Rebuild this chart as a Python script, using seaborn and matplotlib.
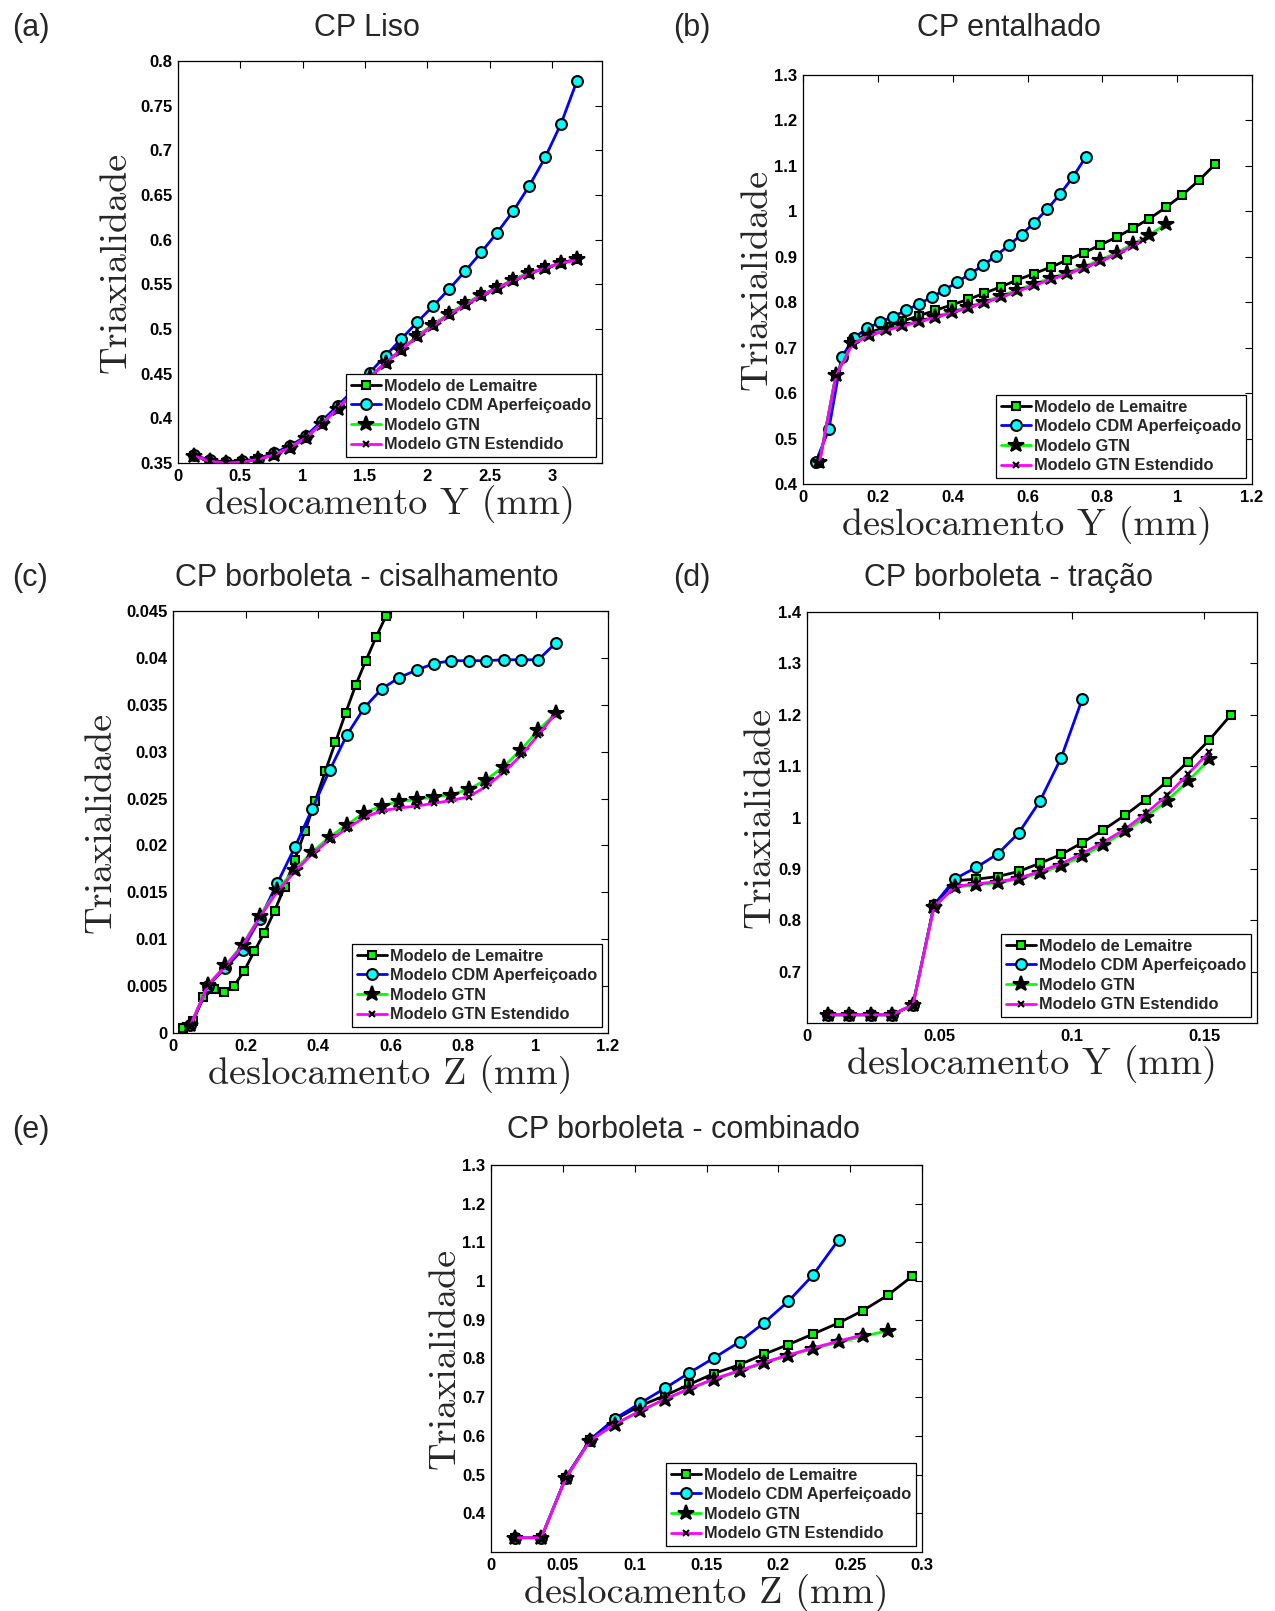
import matplotlib
matplotlib.use("Agg")
import matplotlib.pyplot as plt
import numpy as np
import seaborn as sns
from matplotlib.ticker import FuncFormatter

# ---- data ----
# (a) CP Liso
a_x = [0.128, 0.256, 0.384, 0.512, 0.640, 0.768, 0.896, 1.024, 1.152, 1.280, 1.408, 1.536, 1.664,
       1.792, 1.920, 2.048, 2.176, 2.304, 2.432, 2.560, 2.688, 2.816, 2.944, 3.072, 3.200]
a_lem = [0.358, 0.352, 0.350, 0.351, 0.354, 0.359, 0.367, 0.378, 0.394, 0.411, 0.429, 0.446, 0.462,
         0.477, 0.492, 0.505, 0.517, 0.528, 0.538, 0.546, 0.555, 0.563, 0.568, 0.574, 0.578]
a_cdm = [0.359, 0.353, 0.351, 0.352, 0.355, 0.361, 0.369, 0.380, 0.397, 0.414, 0.432, 0.451, 0.470,
         0.489, 0.508, 0.526, 0.545, 0.565, 0.586, 0.608, 0.632, 0.660, 0.692, 0.730, 0.778]
a_gtn = [0.358, 0.352, 0.350, 0.351, 0.354, 0.359, 0.367, 0.378, 0.394, 0.411, 0.429, 0.446, 0.462,
         0.477, 0.492, 0.505, 0.517, 0.528, 0.538, 0.546, 0.555, 0.563, 0.568, 0.574, 0.578]
a_ext = [0.358, 0.352, 0.350, 0.351, 0.354, 0.359, 0.367, 0.378, 0.394, 0.411, 0.429, 0.446, 0.462,
         0.477, 0.491, 0.504, 0.516, 0.527, 0.537, 0.546, 0.554, 0.562, 0.568, 0.574, 0.577]

# (b) CP entalhado
b_x_lem = [0.044, 0.088, 0.132, 0.176, 0.221, 0.265, 0.309, 0.353, 0.397, 0.441, 0.485, 0.529, 0.573,
           0.617, 0.662, 0.706, 0.750, 0.794, 0.838, 0.882, 0.926, 0.970, 1.014, 1.058, 1.102]
b_lem = [0.447, 0.640, 0.712, 0.733, 0.745, 0.758, 0.770, 0.782, 0.794, 0.806, 0.820, 0.834, 0.849,
         0.863, 0.877, 0.893, 0.908, 0.926, 0.943, 0.963, 0.984, 1.009, 1.036, 1.068, 1.104]
b_x_cdm = [0.034, 0.069, 0.103, 0.137, 0.172, 0.206, 0.240, 0.275, 0.309, 0.344, 0.378, 0.412, 0.447,
           0.481, 0.515, 0.550, 0.584, 0.618, 0.653, 0.687, 0.721, 0.756]
b_cdm = [0.448, 0.520, 0.679, 0.722, 0.743, 0.756, 0.768, 0.782, 0.796, 0.811, 0.827, 0.844, 0.863,
         0.881, 0.902, 0.925, 0.949, 0.975, 1.005, 1.038, 1.075, 1.120]
b_x_gtn = [0.044, 0.088, 0.132, 0.176, 0.221, 0.265, 0.309, 0.353, 0.397, 0.441, 0.485, 0.529, 0.573,
           0.617, 0.662, 0.706, 0.750, 0.794, 0.838, 0.882, 0.926, 0.970]
b_gtn = [0.448, 0.640, 0.710, 0.728, 0.740, 0.749, 0.759, 0.768, 0.779, 0.790, 0.801, 0.814, 0.827,
         0.840, 0.853, 0.865, 0.878, 0.893, 0.909, 0.928, 0.948, 0.972]
b_x_ext = [0.044, 0.088, 0.132, 0.176, 0.221, 0.265, 0.309, 0.353, 0.397, 0.441, 0.485, 0.529, 0.573,
           0.617, 0.662, 0.706, 0.750, 0.794, 0.838, 0.882, 0.910]
b_ext = [0.447, 0.638, 0.708, 0.726, 0.738, 0.747, 0.757, 0.766, 0.777, 0.788, 0.799, 0.811, 0.824,
         0.837, 0.850, 0.862, 0.875, 0.890, 0.906, 0.924, 0.938]

# (c) CP borboleta - cisalhamento
c_x_lem = [0.028, 0.056, 0.084, 0.112, 0.140, 0.168, 0.196, 0.224, 0.252, 0.280, 0.308, 0.336, 0.364,
           0.392, 0.420, 0.448, 0.476, 0.504, 0.532, 0.560, 0.588]
c_lem = [0.0005, 0.0013, 0.0038, 0.0047, 0.0044, 0.0050, 0.0066, 0.0087, 0.0107, 0.0130, 0.0156,
         0.0185, 0.0215, 0.0247, 0.0279, 0.0310, 0.0341, 0.0371, 0.0397, 0.0422, 0.0445]
c_x = [0.048, 0.096, 0.144, 0.192, 0.240, 0.288, 0.336, 0.384, 0.432, 0.480, 0.528, 0.576, 0.624,
       0.672, 0.720, 0.768, 0.816, 0.864, 0.912, 0.960, 1.008, 1.056]
c_cdm = [0.0008, 0.0050, 0.0069, 0.0089, 0.0122, 0.0160, 0.0198, 0.0239, 0.0280, 0.0318, 0.0347,
         0.0367, 0.0379, 0.0387, 0.0394, 0.0397, 0.0397, 0.0397, 0.0398, 0.0398, 0.0398, 0.0416]
c_gtn = [0.0008, 0.0051, 0.0072, 0.0094, 0.0125, 0.0153, 0.0174, 0.0193, 0.0209, 0.0222, 0.0235,
         0.0242, 0.0247, 0.0249, 0.0252, 0.0254, 0.0260, 0.0270, 0.0284, 0.0302, 0.0323, 0.0341]
c_ext = [0.0008, 0.0051, 0.0071, 0.0093, 0.0124, 0.0151, 0.0172, 0.0191, 0.0206, 0.0218, 0.0230,
         0.0237, 0.0240, 0.0242, 0.0245, 0.0248, 0.0252, 0.0263, 0.0278, 0.0296, 0.0318, 0.0341]

# (d) CP borboleta - tracao
d_x = [0.008, 0.016, 0.024, 0.032, 0.040, 0.048, 0.056, 0.064, 0.072, 0.080, 0.088, 0.096, 0.104,
       0.112, 0.120, 0.128, 0.136, 0.144, 0.152, 0.160]
d_lem = [0.616, 0.616, 0.616, 0.616, 0.635, 0.829, 0.877, 0.880, 0.885, 0.895, 0.911, 0.928, 0.951,
         0.976, 1.004, 1.035, 1.070, 1.109, 1.151, 1.199]
d_cdm = [0.616, 0.616, 0.616, 0.616, 0.635, 0.830, 0.881, 0.903, 0.929, 0.970, 1.032, 1.116, 1.231]
d_gtn = [0.616, 0.616, 0.616, 0.616, 0.635, 0.826, 0.864, 0.869, 0.873, 0.880, 0.892, 0.906, 0.925,
         0.947, 0.973, 1.001, 1.033, 1.071, 1.113]
d_ext = [0.616, 0.616, 0.616, 0.616, 0.635, 0.826, 0.866, 0.871, 0.875, 0.882, 0.895, 0.910, 0.930,
         0.952, 0.977, 1.008, 1.043, 1.085, 1.128]

# (e) CP borboleta - combinado
e_x = [0.017, 0.035, 0.052, 0.069, 0.086, 0.104, 0.121, 0.138, 0.155, 0.173, 0.190, 0.207, 0.224,
       0.242, 0.259, 0.276, 0.293]
e_lem = [0.337, 0.337, 0.492, 0.590, 0.642, 0.678, 0.704, 0.733, 0.761, 0.784, 0.811, 0.836, 0.863,
         0.892, 0.924, 0.963, 1.012]
e_cdm = [0.337, 0.337, 0.492, 0.590, 0.644, 0.685, 0.723, 0.763, 0.801, 0.843, 0.892, 0.948, 1.015, 1.107]
e_gtn = [0.337, 0.337, 0.490, 0.588, 0.629, 0.664, 0.694, 0.721, 0.745, 0.767, 0.788, 0.807, 0.825,
         0.842, 0.857, 0.872]
e_ext = [0.337, 0.337, 0.490, 0.588, 0.630, 0.665, 0.695, 0.722, 0.747, 0.769, 0.790, 0.809, 0.827,
         0.845, 0.861]

model_labels = ["Modelo de Lemaitre", "Modelo CDM Aperfeiçoado", "Modelo GTN", "Modelo GTN Estendido"]

# ---- styling ----
sns.set_style("white")
plt.rcParams["font.family"] = ["Liberation Sans", "DejaVu Sans"]
plt.rcParams["font.weight"] = "bold"

styles = [
    dict(color="black", marker="s", markersize=5.8, markerfacecolor="#00ff00"),
    dict(color="#0000ff", marker="o", markersize=7.8, markerfacecolor="#00ffff"),
    dict(color="#00ff00", marker="*", markersize=11.5, markerfacecolor="black"),
    dict(color="#ff00ff", marker="x", markersize=5, markerfacecolor="black"),
]

W, H = 1275, 1611
fig = plt.figure(figsize=(W / 100, H / 100), dpi=100)

panels = [
    dict(box=(178, 61, 602, 463), letter="(a)", title="CP Liso", tx=367, ty=28, lx=12,
         series=[(a_x, a_lem), (a_x, a_cdm), (a_x, a_gtn), (a_x, a_ext)],
         xlim=(0, 3.4), ylim=(0.35, 0.8), xticks=np.arange(0, 3.01, 0.5), yticks=np.arange(0.35, 0.801, 0.05),
         xlabel="deslocamento Y (mm)", ylx=116),
    dict(box=(803, 75, 1252, 484), letter="(b)", title="CP entalhado", tx=1009, ty=28, lx=673,
         series=[(b_x_lem, b_lem), (b_x_cdm, b_cdm), (b_x_gtn, b_gtn), (b_x_ext, b_ext)],
         xlim=(0, 1.2), ylim=(0.4, 1.3), xticks=np.arange(0, 1.21, 0.2), yticks=np.arange(0.4, 1.31, 0.1),
         xlabel="deslocamento Y (mm)", ylx=757),
    dict(box=(173, 611, 608, 1033), letter="(c)", title="CP borboleta - cisalhamento", tx=367, ty=578, lx=12,
         series=[(c_x_lem, c_lem), (c_x, c_cdm), (c_x, c_gtn), (c_x, c_ext)],
         xlim=(0, 1.2), ylim=(0, 0.045), xticks=np.arange(0, 1.21, 0.2), yticks=np.arange(0, 0.0451, 0.005),
         xlabel="deslocamento Z (mm)", ylx=101),
    dict(box=(807, 612, 1257, 1023), letter="(d)", title="CP borboleta - tração", tx=1009, ty=578, lx=673,
         series=[(d_x, d_lem), (d_x[:13], d_cdm), (d_x[:19], d_gtn), (d_x[:19], d_ext)],
         xlim=(0, 0.17), ylim=(0.6, 1.4), xticks=np.arange(0, 0.151, 0.05), yticks=np.arange(0.7, 1.41, 0.1),
         xlabel="deslocamento Y (mm)", ylx=760),
    dict(box=(491, 1165, 922, 1552), letter="(e)", title="CP borboleta - combinado", tx=683, ty=1130, lx=12,
         series=[(e_x, e_lem), (e_x[:14], e_cdm), (e_x[:16], e_gtn), (e_x[:15], e_ext)],
         xlim=(0, 0.3), ylim=(0.3, 1.3), xticks=np.arange(0, 0.301, 0.05), yticks=np.arange(0.4, 1.31, 0.1),
         xlabel="deslocamento Z (mm)", ylx=445),
]

fmt = FuncFormatter(lambda v, p: f"{v:g}")

for p in panels:
    l, t, r, b = p["box"]
    ax = fig.add_axes([l / W, 1 - b / H, (r - l) / W, (b - t) / H])
    for (xs, ys), st, lab in zip(p["series"], styles, model_labels):
        sns.lineplot(x=xs, y=ys, ax=ax, sort=False, estimator=None, label=lab,
                     linewidth=2.0, markeredgecolor="black", markeredgewidth=1.5, **st)
    ax.set_xlim(*p["xlim"])
    ax.set_ylim(*p["ylim"])
    ax.set_xticks(p["xticks"])
    ax.set_yticks(p["yticks"])
    ax.xaxis.set_major_formatter(fmt)
    ax.yaxis.set_major_formatter(fmt)
    ax.tick_params(direction="in", length=5, width=0.8, top=True, right=True,
                   labelsize=12, pad=4, colors="black")
    for s in ax.spines.values():
        s.set_color("black")
        s.set_linewidth(0.9)

    h = b - t
    ax.set_xlabel(p["xlabel"], fontfamily="cmr10", fontweight="normal", fontsize=27.5)
    ax.xaxis.set_label_coords(0.5, -22 / h)
    ax.set_ylabel("Triaxialidade", fontfamily="cmr10", fontweight="normal", fontsize=27.5, va="center")
    ax.yaxis.set_label_coords((p["ylx"] - l) / (r - l), 0.5)

    leg = ax.legend(loc="lower right", fontsize=11.8, frameon=True, fancybox=False, framealpha=1,
                    edgecolor="black", borderpad=0.3, labelspacing=0.28, handlelength=1.8,
                    handletextpad=0.2, borderaxespad=0.35)
    leg.get_frame().set_linewidth(0.9)

    fig.text(p["tx"] / W, 1 - p["ty"] / H, p["title"], ha="center", va="center",
             fontsize=22, fontweight="normal")
    fig.text(p["lx"] / W, 1 - p["ty"] / H, p["letter"], ha="left", va="center",
             fontsize=22, fontweight="normal")

fig.savefig("out.png", dpi=100, facecolor="white")
